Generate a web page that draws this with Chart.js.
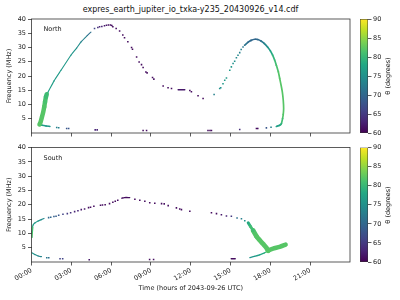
<!DOCTYPE html>
<html>
<head>
<meta charset="utf-8">
<script src="https://cdn.jsdelivr.net/npm/chart.js@4.4.1/dist/chart.umd.min.js"></script>
<style>
  body { margin: 0; background: #fff; width: 400px; height: 300px; overflow: hidden; position: relative; font-family: "DejaVu Sans", sans-serif; }
  canvas { position: absolute; }
  .txt { position: absolute; color: #111; white-space: nowrap; }
  .cbl { font-size: 6.5px; transform: translate(-50%, -50%) rotate(-90deg); }
</style>
</head>
<body>
<div class="txt" style="left:0;width:381px;top:5px;text-align:center;font-size:8px;">expres_earth_jupiter_io_txka-y235_20430926_v14.cdf</div>
<canvas id="north" width="360" height="140" style="left:0;top:0"></canvas>
<canvas id="south" width="360" height="160" style="left:0;top:140px"></canvas>
<canvas id="cbNorth" width="50" height="140" style="left:350px;top:0"></canvas>
<canvas id="cbSouth" width="50" height="160" style="left:350px;top:140px"></canvas>
<div class="txt cbl" style="left:388px;top:76px">θ (degrees)</div>
<div class="txt cbl" style="left:388px;top:205px">θ (degrees)</div>
<script>
// axis ticks
const hourTicks = [0, 3, 6, 9, 12, 15, 18, 21];
const hourLabels = ['00:00', '03:00', '06:00', '09:00', '12:00', '15:00', '18:00', '21:00'];
const freqTicks = [5, 10, 15, 20, 25, 30, 35, 40];
const thetaTicks = [60, 65, 70, 75, 80, 85, 90];

// [hour, MHz, theta deg]
// --- North ---
const northBand = [[0.6,3.0,82],[0.68,3.8,82],[0.78,5.5,82],[0.88,7.3,82],[0.96,9.2,82],[1.02,10.9,81.5],[1.09,12.7,81],[1.15,13.6,80]];
const northHook = [[0.6,3.0,79],[0.8,2.7,77],[1.1,2.45,76],[1.39,2.3,75]];
const northLowDots = [[1.9,1.9,73],[2.05,1.85,73],[2.65,1.6,68],[2.8,1.55,68],[4.8,1.1,63],[4.95,1.1,63],[8.41,0.9,61],[8.67,0.9,61]];
const northRise = [[1.15,13.6,77],[1.24,14.3,77],[1.7,18.3,76.5],[2.22,22.0,76],[2.97,27.3,76],[3.4,29.8,75],[3.72,31.9,74],[4.2,34.2,72],[4.48,35.4,70]];
const northPeak = [[4.75,36.7,66],[5.0,37.0,64],[5.13,37.3,63],[5.3,37.4,63],[5.5,37.6,62],[5.65,37.8,62],[5.8,37.9,61],[5.95,37.9,61],[6.05,37.7,61]];
const northDescent = [[6.13,37.3,61],[6.38,36.7,61],[6.64,35.8,61],[6.88,34.4,61],[7.01,33.4,61],[7.26,32.0,61],[7.54,30.0,61],[7.61,29.4,61],[7.92,26.7,61],[8.11,24.9,61],[8.29,24.0,61],[8.41,23.0,61],[8.62,21.4,61],[8.71,21.1,61],[9.12,19.5,61],[9.22,18.9,61],[9.92,16.5,61],[10.29,15.9,61],[10.55,15.6,61],[11.93,14.9,61],[12.05,14.5,61],[12.55,13.1,61],[12.93,12.1,61]];
const northFlat = [[11.05,15.2,62],[11.55,15.2,62]];
const northArcRise = [[13.76,13.5,73],[14.18,15.6,75],[14.26,15.9,75],[14.43,17.3,76],[14.56,18.5,76],[14.69,19.3,76],[14.94,22.0,76],[15.06,23.2,76],[15.19,24.4,75],[15.31,25.2,75],[15.44,26.4,74],[15.56,27.3,74],[15.69,28.2,73],[15.8,29.3,73],[15.94,30.2,72]];
const northArc = [[16.06,30.8,72],[16.3,31.8,71],[16.55,32.5,70],[16.82,32.9,70],[17.05,32.8,70],[17.32,32.2,71],[17.55,31.4,73],[17.8,30.1,75],[18.0,28.8,77],[18.17,27.3,79],[18.32,25.6,80],[18.45,23.8,81],[18.6,21.5,81.5],[18.7,19.2,82],[18.82,16.5,82],[18.9,14.4,82],[18.97,11.5,82],[19.0,8.6,82],[18.97,6.5,82],[18.92,5.1,81.5],[18.83,3.3,80],[18.7,2.7,78],[18.45,2.3,76]];
const northLowRight = [[13.3,0.9,61],[13.45,0.9,61],[13.56,0.9,61],[15.69,1.2,64],[16.95,1.6,61],[17.05,1.6,61],[17.7,1.8,68],[18.05,2.0,73]];

// --- South ---
const southStart = [[0.02,8.7,81],[0.04,10.5,82],[0.07,12.0,80]];
const southRise = [[0.07,12.0,78],[0.12,12.9,77],[0.25,13.6,76],[0.5,14.3,76],[0.74,14.8,75],[0.94,15.2,73]];
const southUpper = [[1.29,15.5,70],[1.45,15.65,70],[1.69,15.9,69],[1.85,16.0,69],[2.05,16.3,68],[2.37,16.7,66],[2.7,16.9,65],[2.95,17.2,64],[3.25,17.6,63],[3.5,17.9,63],[3.75,18.3,62],[4.0,18.5,62],[4.3,19.0,61],[4.45,19.1,61],[4.7,19.5,61],[5.2,19.8,61],[5.35,19.9,61],[5.55,20.0,61],[5.88,20.4,61],[6.13,20.9,61],[6.31,21.2,61],[6.5,21.6,61],[7.79,21.9,61],[8.16,21.6,61],[8.54,21.2,61],[8.91,20.7,61],[9.29,20.5,61],[9.8,20.4,61],[10.0,20.3,61],[10.3,19.7,61],[10.92,18.9,61],[11.17,18.5,61],[11.3,18.3,61],[11.93,17.7,61]];
const southPeak = [[6.81,22.3,61],[7.0,22.5,61],[7.4,22.5,61]];
const southLate = [[13.56,17.2,61],[13.94,16.9,61],[14.31,16.5,62],[14.69,16.1,63],[15.06,16.0,65],[15.49,15.4,71],[15.82,15.1,73],[16.07,14.4,75],[16.31,13.7,77]];
const southBandTop = [[16.33,13.7,78],[16.5,12.4,80],[16.7,11.0,81.5]];
const southBand = [[16.7,11.0,81.5],[16.95,9.0,82],[17.2,7.6,82],[17.45,6.3,82],[17.7,5.0,82],[17.85,3.9,82]];
const southTail = [[17.8,4.0,82],[18.2,4.7,82],[18.7,5.3,82],[19.15,6.1,82]];
const southLowTail = [[16.44,1.5,75],[16.8,1.95,76],[17.19,2.5,77],[17.56,3.2,79],[17.75,3.7,80]];
const southLowDash = [[15.05,1.15,61],[15.35,1.15,61]];
const southLowStart = [[0.0,3.3,76],[0.25,2.6,75],[0.5,2.1,74],[0.75,1.85,73]];
const southLowDots = [[1.15,1.5,72],[1.3,1.5,71],[2.15,1.15,66],[2.35,1.15,66],[4.35,0.8,62],[8.9,0.9,61],[9.2,0.9,61]];

const northTracks = [
  [northBand, 'line', 4.5], [northHook, 'line', 1.5], [northLowDots, 'dots'],
  [northRise, 'line', 1.1], [northPeak, 'dots'], [northDescent, 'dots'], [northFlat, 'line', 1.4],
  [northArcRise, 'dots'], [northArc, 'line', 1.7], [northLowRight, 'dots']
];
const southTracks = [
  [southStart, 'line', 2], [southRise, 'line', 1.2], [southUpper, 'dots'], [southPeak, 'line', 1.4],
  [southLate, 'dots'], [southBandTop, 'line', 3], [southBand, 'line', 4.8], [southTail, 'line', 4.5],
  [southLowTail, 'line', 1.2], [southLowDash, 'line', 1.4], [southLowStart, 'line', 1.2], [southLowDots, 'dots']
];

// viridis colormap stops
const vir = ['#440154','#482475','#414487','#355f8d','#2a788e','#21918c','#22a884','#44bf70','#7ad151','#bddf26','#fde725'];
function hex(c){ return [1,3,5].map(i => parseInt(c.slice(i, i + 2), 16)); }
function viridis(theta){
  let t = Math.min(1, Math.max(0, (theta - 60) / 30)) * 10;
  const i = Math.min(9, Math.floor(t)), f = t - i;
  const a = hex(vir[i]), b = hex(vir[i + 1]);
  const m = a.map((v, k) => Math.round(v + (b[k] - v) * f));
  return `rgb(${m[0]},${m[1]},${m[2]})`;
}

function makeDatasets(tracks){
  return tracks.map(([pts, kind, w]) => {
    const data = pts.map(p => ({ x: p[0], y: p[1] }));
    if (kind === 'line') {
      return {
        data, showLine: true, borderWidth: w, pointRadius: 0, tension: 0.2,
        borderCapStyle: 'round', borderJoinStyle: 'round',
        borderColor: viridis(pts[0][2]),
        segment: { borderColor: c => viridis((pts[c.p0DataIndex][2] + pts[c.p1DataIndex][2]) / 2) }
      };
    }
    return {
      data, showLine: false, pointStyle: 'rect', pointRadius: 1.1, pointBorderWidth: 0,
      pointBackgroundColor: c => viridis(pts[c.dataIndex][2])
    };
  });
}

const tickFont = { family: 'DejaVu Sans', size: 6.5 };
const ink = '#222';

const frameAndLabel = {
  id: 'frameAndLabel',
  afterDraw(chart, args, opts){
    const { ctx, chartArea: a } = chart;
    ctx.save();
    ctx.strokeStyle = '#333';
    ctx.lineWidth = 0.8;
    ctx.strokeRect(a.left, a.top, a.right - a.left, a.bottom - a.top);
    if (opts.text) {
      ctx.fillStyle = ink;
      ctx.font = '6.5px "DejaVu Sans"';
      ctx.textBaseline = 'middle';
      ctx.fillText(opts.text, a.left + 12, a.top + 10.5);
    }
    ctx.restore();
  }
};

function panel(id, tracks, label, bottom){
  new Chart(document.getElementById(id), {
    type: 'scatter',
    data: { datasets: makeDatasets(tracks) },
    options: {
      responsive: false, animation: false, events: [],
      layout: { padding: { left: 0, right: 10, top: bottom ? 7.5 : 19, bottom: 0 } },
      plugins: { legend: { display: false }, tooltip: { enabled: false }, frameAndLabel: { text: label } },
      scales: {
        x: {
          type: 'linear', min: 0, max: 24,
          afterBuildTicks: s => { s.ticks = hourTicks.map(v => ({ value: v })); },
          afterFit: s => { s.height = bottom ? 38 : 7; },
          ticks: {
            display: bottom, autoSkip: false, minRotation: 30, maxRotation: 30, padding: 1,
            font: tickFont, color: ink,
            callback: v => hourLabels[hourTicks.indexOf(v)]
          },
          grid: { drawOnChartArea: false, drawTicks: true, tickLength: 3.5, color: '#333', lineWidth: 0.8 },
          border: { display: false },
          title: { display: bottom, text: 'Time (hours of 2043-09-26 UTC)', font: tickFont, color: ink, padding: { top: 0, bottom: 8 } }
        },
        y: {
          min: 0, max: 40,
          afterBuildTicks: s => { s.ticks = freqTicks.map(v => ({ value: v })); },
          afterFit: s => { s.width = 31.5; },
          ticks: { font: tickFont, color: ink, padding: 2 },
          grid: { drawOnChartArea: false, drawTicks: true, tickLength: 3.5, color: '#333', lineWidth: 0.8 },
          border: { display: false },
          title: { display: true, text: 'Frequency (MHz)', font: tickFont, color: ink, padding: { top: 5, bottom: 0 } }
        }
      }
    },
    plugins: [frameAndLabel]
  });
}

function colorbar(id, bottom){
  new Chart(document.getElementById(id), {
    type: 'bar',
    data: {
      labels: [''],
      datasets: [{
        data: [[thetaTicks[0], thetaTicks[thetaTicks.length - 1]]],
        barPercentage: 1, categoryPercentage: 1, borderWidth: 0.8, borderColor: '#333', borderSkipped: false,
        backgroundColor: c => {
          const a = c.chart.chartArea;
          if (!a) return viridis(75);
          const g = c.chart.ctx.createLinearGradient(0, a.bottom, 0, a.top);
          vir.forEach((col, i) => g.addColorStop(i / 10, col));
          return g;
        }
      }]
    },
    options: {
      responsive: false, animation: false, events: [],
      layout: { padding: { left: 10, right: 0, top: bottom ? 7.5 : 19, bottom: bottom ? 38 : 7 } },
      plugins: { legend: { display: false }, tooltip: { enabled: false } },
      scales: {
        x: { display: false },
        y: {
          position: 'right', min: 60, max: 90,
          afterBuildTicks: s => { s.ticks = thetaTicks.map(v => ({ value: v })); },
          afterFit: s => { s.width = 32; },
          ticks: { font: tickFont, color: ink, padding: 1.5 },
          grid: { drawOnChartArea: false, drawTicks: true, tickLength: 3.5, color: '#333', lineWidth: 0.8 },
          border: { display: false }
        }
      }
    }
  });
}

panel('north', northTracks, 'North', false);
panel('south', southTracks, 'South', true);
colorbar('cbNorth', false);
colorbar('cbSouth', true);
</script>
</body>
</html>
